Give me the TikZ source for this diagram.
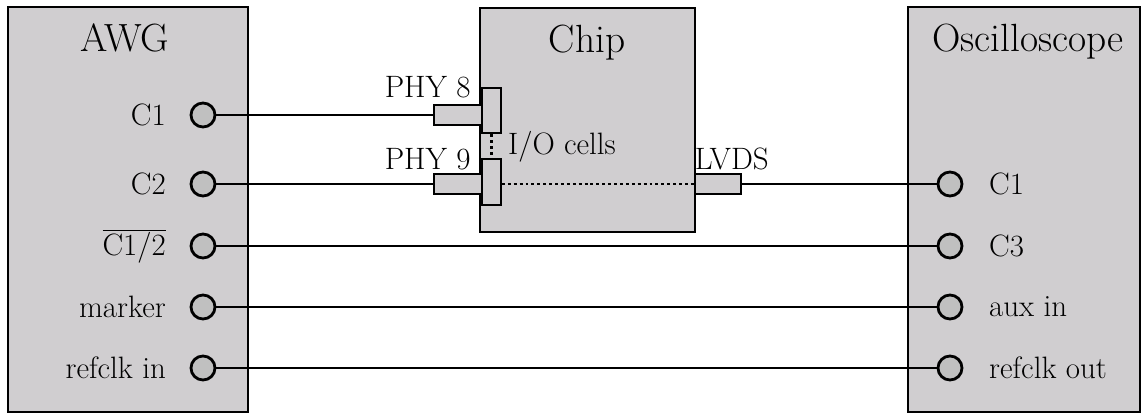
\documentclass[tikz,border=0pt]{standalone}
\usepackage{tikz}
\usetikzlibrary{positioning}
\definecolor{boxgray}{RGB}{208,206,208}
\definecolor{portgray}{RGB}{192,192,192}
\begin{document}
\begin{tikzpicture}[
  device/.style={draw, line width=1.3pt, fill=boxgray, minimum width=#1, minimum height=10.125cm, inner sep=0pt},
  port/.style={circle, draw, line width=2pt, fill=portgray, minimum size=0.6cm, inner sep=0pt},
  pad/.style={draw, line width=1.3pt, fill=boxgray, minimum width=#1, minimum height=0.48cm, inner sep=0pt},
  iocell/.style={draw, line width=1.3pt, fill=boxgray, minimum width=0.475cm, minimum height=1.14cm, inner sep=0pt},
  wire/.style={line width=2.1pt},
  dots/.style={line width=1.8pt, dash pattern=on 2.1pt off 2.1pt},
  title/.style={font=\fontsize{28}{32}\selectfont, anchor=base},
  lbl/.style={font=\fontsize{22}{26}\selectfont}
]
  \useasboundingbox (0,0) rectangle (28.625,-10.425);

  % Devices
  \node[device=6cm] (awg) at (3.2,-5.2375) {};
  \node[title] at (3.125,-1.3) {AWG};

  \node[device=5.8cm] (osc) at (25.6,-5.2375) {};
  \node[title] at (25.7,-1.3) {Oscilloscope};

  \node[draw, line width=1.3pt, fill=boxgray, minimum width=5.375cm, minimum height=5.6cm, inner sep=0pt] (chip) at (14.6875,-3.0) {};
  \node[title] at (14.675,-1.325) {Chip};

  % AWG ports
  \node[port] (a1) at (5.075,-2.875) {};
  \node[lbl, left=0.47cm of a1] {C1};
  \node[port] (a2) at (5.075,-4.6) {};
  \node[lbl, left=0.47cm of a2] {C2};
  \node[port] (a3) at (5.075,-6.15) {};
  \node[lbl, left=0.47cm of a3] {$\overline{\mbox{C1/2}}$};
  \node[port] (a4) at (5.075,-7.675) {};
  \node[lbl, left=0.47cm of a4] {marker};
  \node[port] (a5) at (5.075,-9.2) {};
  \node[lbl, left=0.47cm of a5] {refclk in};

  % Oscilloscope ports
  \node[port] (o1) at (23.75,-4.6) {};
  \node[lbl, right=0.52cm of o1] {C1};
  \node[port] (o3) at (23.75,-6.15) {};
  \node[lbl, right=0.52cm of o3] {C3};
  \node[port] (o4) at (23.75,-7.675) {};
  \node[lbl, right=0.52cm of o4] {aux in};
  \node[port] (o5) at (23.75,-9.2) {};
  \node[lbl, right=0.52cm of o5] {refclk out};

  % I/O cells and pads
  \node[iocell] (io8) at (12.2875,-2.7625) {};
  \node[iocell] (io9) at (12.2875,-4.55) {};
  \node[pad=1.2cm] (phy8) at (11.45,-2.875) {};
  \node[pad=1.2cm] (phy9) at (11.45,-4.6) {};
  \node[pad=1.15cm] (lvds) at (17.95,-4.6) {};
  \node[lbl, anchor=base east] at (11.89,-2.45) {PHY 8};
  \node[lbl, anchor=base east] at (11.89,-4.25) {PHY 9};
  \node[lbl, anchor=base west] at (17.25,-4.25) {LVDS};
  \node[lbl, anchor=base west] at (12.58,-3.875) {I/O cells};

  \draw[dots] (io8.south) -- (io9.north);
  \draw[dots] (io9.east |- lvds.west) -- (lvds.west);

  % Wires
  \draw[wire] (a1) -- (phy8);
  \draw[wire] (a2) -- (phy9);
  \draw[wire] (lvds) -- (o1);
  \draw[wire] (a3) -- (o3);
  \draw[wire] (a4) -- (o4);
  \draw[wire] (a5) -- (o5);
\end{tikzpicture}
\end{document}
